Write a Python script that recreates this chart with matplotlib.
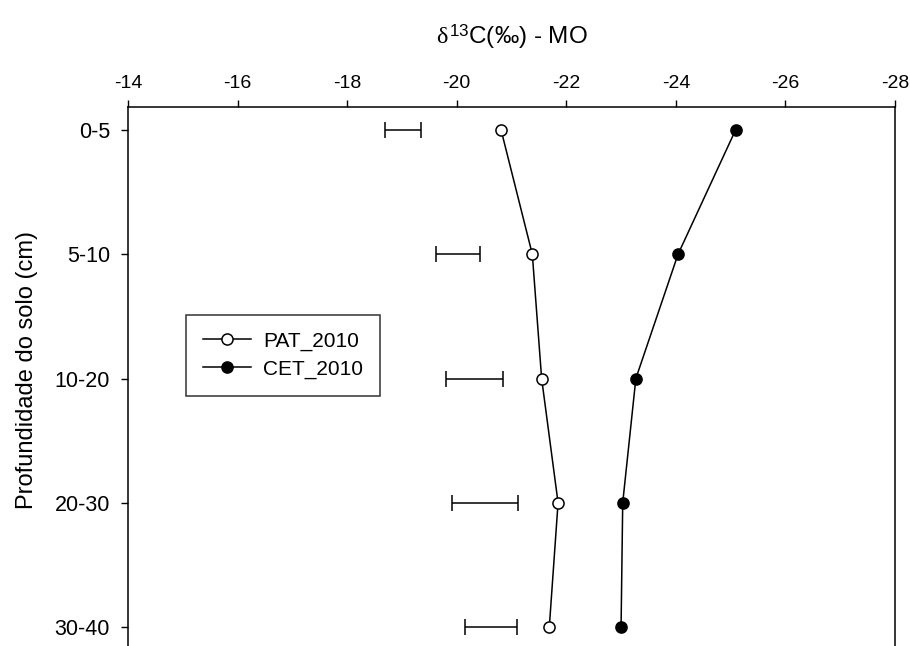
import matplotlib
matplotlib.use("Agg")
import matplotlib.pyplot as plt
import numpy as np

plt.rcParams['font.family'] = ['Liberation Sans', 'DejaVu Sans']
plt.rcParams['mathtext.fontset'] = 'custom'
plt.rcParams['mathtext.rm'] = 'Liberation Sans'
plt.rcParams['mathtext.it'] = 'Liberation Serif'

depths = ["0-5", "5-10", "10-20", "20-30", "30-40"]
pat_2010 = [-20.81, -21.38, -21.55, -21.85, -21.69]
cet_2010 = [-25.09, -24.04, -23.27, -23.03, -23.00]
bar_left = [-18.70, -19.63, -19.80, -19.92, -20.15]
bar_right = [-19.35, -20.42, -20.85, -21.12, -21.10]
xticks = [-14, -16, -18, -20, -22, -24, -26, -28]

W, H = 910, 646
fig = plt.figure(figsize=(W / 100, H / 100), dpi=100)
ax_top, ax_bot = 107, 650
ax = fig.add_axes([128 / W, 1 - ax_bot / H, (895 - 128) / W, (ax_bot - ax_top) / H])

y = np.arange(len(depths))
ax.plot(pat_2010, y, '-o', color='black', lw=1.1, ms=8, mfc='white', mec='black', mew=1.1,
        label='PAT_2010', zorder=3)
ax.plot(cet_2010, y, '-o', color='black', lw=1.1, ms=8, mfc='black', mec='black', mew=1.1,
        label='CET_2010', zorder=3)

bl = np.array(bar_left)
br = np.array(bar_right)
mid = (bl + br) / 2
half = np.abs(br - bl) / 2
ax.errorbar(mid, y, xerr=half, fmt='none', ecolor='black', elinewidth=1.1, capsize=5.5,
            capthick=1.1)

ax.set_xlim(-14, -28)
ax.set_ylim(len(depths) - 1 + 0.185, -0.185)
ax.set_xticks(xticks)
ax.set_xticklabels([str(v) for v in xticks])
ax.set_yticks(y)
ax.set_yticklabels(depths)
ax.xaxis.set_ticks_position('top')
ax.xaxis.set_label_position('top')
ax.tick_params(axis='both', direction='out', length=5, width=1, color='black')
ax.tick_params(axis='x', pad=5.5, labelsize=14)
ax.tick_params(axis='y', pad=8, labelsize=15.5)
for s in ax.spines.values():
    s.set_linewidth(1.1)
ax.spines['bottom'].set_visible(False)

ax.set_xlabel(r"$\delta^{13}$C(‰) - MO", fontsize=17.5, labelpad=23)
ax.set_ylabel("Profundidade do solo (cm)", fontsize=17)
ax.yaxis.set_label_coords((38 - 128) / 767, (ax_bot - 370) / (ax_bot - ax_top))

leg = ax.legend(loc='upper left', bbox_to_anchor=(186 / W, 1 - 315 / H),
                bbox_transform=fig.transFigure, borderaxespad=0, fontsize=15,
                frameon=True, fancybox=False, handlelength=2.3, handletextpad=0.6,
                borderpad=0.8, labelspacing=0.42, edgecolor='black')
leg.get_frame().set_linewidth(1.1)

fig.savefig("out.png", dpi=100)
